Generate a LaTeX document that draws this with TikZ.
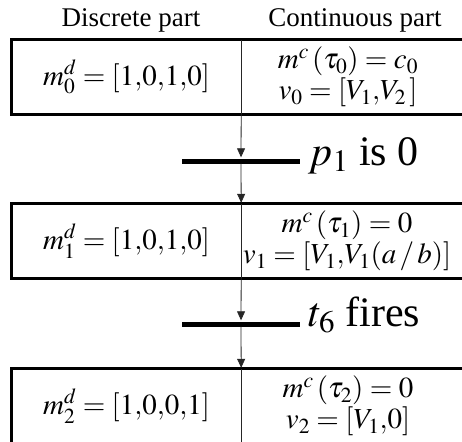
\documentclass[tikz,border=0pt]{standalone}
\usepackage{mathptmx}
\usepackage[no-math]{fontspec}
\setmainfont{Liberation Serif}
\usetikzlibrary{arrows.meta}
\begin{document}
\begin{tikzpicture}[x=1pt, y=-1pt]
\tikzstyle{head}=[anchor=base, font=\fontsize{27}{30}\selectfont]
\tikzstyle{cell}=[minimum height=74pt, inner sep=0pt, font=\fontsize{29}{31}\selectfont, align=center]
\tikzstyle{box}=[line width=3pt]
\tikzstyle{bar}=[fill=black, minimum width=118pt, minimum height=5pt, inner sep=0pt]
\tikzstyle{flow}=[line width=0.8pt, black!85]
\tikzstyle{flowarrow}=[flow, -{Triangle[width=8pt, length=9pt]}, shorten >=1pt]
\tikzstyle{event}=[anchor=base west, font=\fontsize{42}{46}\selectfont, inner sep=0pt]
\useasboundingbox (0,0) rectangle (462,441);

\node[head] (hd) at (131,27) {Discrete part};
\node[head] (hc) at (355,27) {Continuous part};

\node[cell, minimum width=229pt] (d0) at (126.5,77) {$m_0^d=[1{,}0{,}1{,}0]$};
\node[cell, minimum width=236pt] (c0) at (348,77) {$m^{c}\,(\tau_0)=c_0$\\$v_0=[V_1{,}V_2\,]$};
\node[cell, minimum width=229pt] (d1) at (126.5,241) {$m_1^d=[1{,}0{,}1{,}0]$};
\node[cell, minimum width=236pt] (c1) at (347,241) {$m^{c}\,(\tau_1)=0$\\$v_1=[V_1{,}V_1(a\,/\,b)]$};
\node[cell, minimum width=229pt] (d2) at (126.5,406) {$m_2^d=[1{,}0{,}0{,}1]$};
\node[cell, minimum width=236pt] (c2) at (348,406) {$m^{c}\,(\tau_2)=0$\\$v_2=[V_1{,}0]$};

\draw[box] (d0.north west) rectangle (c0.south east);
\draw[box] (d1.north west) rectangle ([xshift=1pt]c1.south east);
\draw[box] (d2.north west) rectangle ([yshift=-6pt]c2.south east);

\node[bar] (b1) at (241,161) {};
\node[bar] (b2) at (241,324) {};
\node[event] (e1) at ([xshift=8pt, yshift=-4pt]b1.east) {$p_1$ is 0};
\node[event] (e2) at ([xshift=8pt, yshift=-2pt]b2.east) {$t_6$ fires};

\draw[flow] (d0.north east) -- (d0.south east);
\draw[flowarrow] (d0.south east) -- (b1.north);
\draw[flowarrow] (b1.south) -- (d1.north east);
\draw[flow] (d1.north east) -- (d1.south east);
\draw[flowarrow] (d1.south east) -- (b2.north);
\draw[flowarrow] (b2.south) -- (d2.north east);
\draw[flow] (d2.north east) -- ([yshift=-6pt]d2.south east);
\end{tikzpicture}
\end{document}
